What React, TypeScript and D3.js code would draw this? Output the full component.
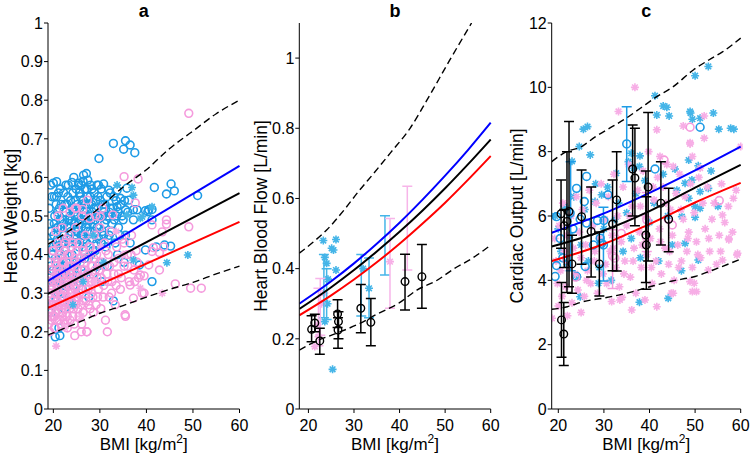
import React from 'react';
import * as d3 from 'd3';

type P = [number, number];
type Bar = [number, number, number, number];

const FONT = "'Liberation Sans', Arial, Helvetica, sans-serif";
const BLUE_C = '#1E9BE6';
const PINK_C = '#F59BDD';
const BLUE_S = '#45B5E8';
const PINK_S = '#F7AEE6';
const BLUE_BAR = '#45B5E8';
const PINK_BAR = '#F7B5E9';

// ---------------- Panel a ----------------
const aBlueCircles: P[] = [
  [32.9,0.688],[35.5,0.695],[36.5,0.684],[35.1,0.673],[37.5,0.664],[29.8,0.649],[26.5,0.606],[20.7,0.589],[20.0,0.585],[20.7,0.55],
  [24.0,0.587],[25.4,0.585],[27.4,0.593],[29.4,0.58],[30.8,0.583],[31.9,0.567],[33.7,0.567],[35.8,0.572],[34.4,0.546],[36.2,0.541],
  [37.2,0.516],[35.5,0.516],[33.7,0.524],[39.8,0.514],[41.2,0.517],[41.7,0.574],[44.3,0.557],[45.3,0.583],[46.0,0.565],[51.0,0.553],
  [40.5,0.516],[40.3,0.511],[41.2,0.49],[38.0,0.516],[37.2,0.49],[45.2,0.422],[43.9,0.425],[42.1,0.42],[39.8,0.412],[41.2,0.33],
  [38.5,0.373],[20.4,0.187],[21.4,0.19],[32.9,0.28],
  [19.2,0.34],[19.5,0.31],[19.8,0.40],[20.0,0.36],[20.1,0.45],[20.3,0.50],[20.5,0.29],[20.6,0.42],[20.8,0.38],[21.0,0.47],
  [21.1,0.33],[21.3,0.52],[21.4,0.44],[21.6,0.40],[21.8,0.36],[22.0,0.49],[22.1,0.30],[22.3,0.45],[22.5,0.53],[22.6,0.41],
  [22.8,0.38],[23.0,0.47],[23.1,0.55],[23.3,0.43],[23.5,0.35],[23.6,0.50],[23.8,0.46],[24.0,0.40],[24.1,0.52],[24.3,0.32],
  [24.5,0.48],[24.6,0.44],[24.8,0.54],[25.0,0.38],[25.1,0.50],[25.3,0.46],[25.5,0.42],[25.6,0.56],[25.8,0.49],[26.0,0.36],
  [26.1,0.53],[26.3,0.45],[26.5,0.41],[26.6,0.51],[26.8,0.57],[27.0,0.47],[27.2,0.43],[27.3,0.55],[27.5,0.39],[27.7,0.50],
  [27.9,0.46],[28.0,0.58],[28.2,0.53],[28.4,0.44],[28.6,0.48],[28.8,0.56],[29.0,0.41],[29.2,0.52],[29.4,0.47],[29.6,0.55],
  [29.8,0.44],[30.0,0.50],[30.3,0.57],[30.5,0.46],[30.7,0.53],[31.0,0.48],[31.3,0.42],[31.5,0.55],[31.8,0.50],[32.0,0.45],
  [32.3,0.52],[32.6,0.48],[33.0,0.55],[33.3,0.43],[33.6,0.50],[34.0,0.47],[34.5,0.53],[35.0,0.49],[35.5,0.45],[36.0,0.51],
  [21.2,0.21],[19.6,0.25],[22.4,0.26],[23.4,0.28],[26.2,0.31],[27.6,0.29],[28.5,0.35],[30.4,0.33],[31.6,0.37],[33.8,0.40],
  [35.2,0.38],[36.5,0.43],[19.4,0.58],[20.2,0.55],[21.5,0.57],[22.7,0.58],[24.4,0.60],[25.4,0.58],[26.4,0.59],[27.1,0.61],
  [19.1,0.48],[19.3,0.43],[20.9,0.51],[22.2,0.43],[23.9,0.36],[24.9,0.45],[26.9,0.49],[28.1,0.40],[29.5,0.37],[30.9,0.51],
  [19.1,0.52],[19.3,0.37],[19.5,0.46],[19.7,0.55],[19.9,0.33],[20.0,0.42],[20.2,0.48],[20.4,0.39],[20.6,0.53],[20.7,0.35],
  [20.9,0.44],[21.1,0.56],[21.2,0.41],[21.4,0.49],[21.5,0.37],[21.7,0.53],[21.9,0.43],[22.0,0.39],[22.2,0.56],[22.3,0.48],
  [22.5,0.35],[22.7,0.51],[22.8,0.44],[23.0,0.40],[23.2,0.58],[23.3,0.49],[23.5,0.45],[23.7,0.54],[23.9,0.42],[24.0,0.49],
  [24.2,0.56],[24.4,0.37],[24.5,0.51],[24.7,0.46],[24.9,0.57],[25.0,0.43],[25.2,0.53],[25.4,0.48],[25.6,0.39],[25.7,0.52],
  [25.9,0.45],[26.0,0.58],[26.2,0.48],[26.4,0.54],[26.5,0.44],[26.7,0.39],[26.9,0.53],[27.0,0.50],[27.2,0.57],[27.4,0.46],
  [27.6,0.53],[27.8,0.42],[27.9,0.55],[28.1,0.49],[28.3,0.57],[28.5,0.41],[28.7,0.52],[28.9,0.46],[29.1,0.54],[29.3,0.43],
  [29.5,0.50],[29.7,0.58],[29.9,0.47],[30.1,0.54],[30.3,0.43],[30.6,0.50],[30.8,0.45],[31.1,0.53],[31.4,0.49],[31.7,0.44],
  [32.0,0.51],[32.2,0.56],[32.5,0.46],[32.8,0.52],[33.1,0.49],[33.5,0.54],[33.9,0.51],[34.3,0.45],[34.8,0.50],[35.3,0.54],
  [19.2,0.29],[19.8,0.27],[20.5,0.33],[21.0,0.30],[21.8,0.32],[22.4,0.37],[23.1,0.33],[24.1,0.35],[25.3,0.33],[26.6,0.35],
  [21.6,0.47],[22.9,0.53],[24.6,0.50],[25.8,0.55],[27.3,0.48],[28.4,0.51],[20.8,0.47],[23.6,0.47],[26.3,0.42],[29.0,0.49],
];
const aPinkCircles: P[] = [
  [49.1,0.766],[35.2,0.602],[38.2,0.596],[37.6,0.534],[44.3,0.49],[44.3,0.479],[41.2,0.477],[49.1,0.472],[27.3,0.541],[25.0,0.52],
  [26.3,0.517],[27.8,0.494],[32.8,0.503],[30.1,0.498],[46.2,0.324],[49.5,0.313],[51.8,0.313],[42.8,0.36],[39.5,0.30],[35.4,0.244],
  [31.6,0.20],[43.7,0.42],[41.2,0.408],[42.8,0.405],[40.5,0.373],[38.7,0.347],[39.5,0.345],[36.5,0.321],[39.1,0.30],[37.2,0.287],
  [43.4,0.459],[41.5,0.418],[24.6,0.19],[26.0,0.20],[27.2,0.20],
  [19.0,0.22],[19.2,0.30],[19.4,0.26],[19.5,0.35],[19.7,0.24],[19.8,0.41],[20.0,0.28],[20.1,0.33],[20.2,0.21],[20.4,0.38],
  [20.5,0.46],[20.6,0.25],[20.8,0.31],[20.9,0.43],[21.0,0.27],[21.2,0.36],[21.3,0.23],[21.5,0.40],[21.6,0.29],[21.8,0.34],
  [21.9,0.47],[22.0,0.25],[22.2,0.38],[22.3,0.31],[22.5,0.43],[22.6,0.22],[22.8,0.35],[22.9,0.28],[23.1,0.40],[23.2,0.33],
  [23.4,0.45],[23.5,0.26],[23.7,0.37],[23.8,0.30],[24.0,0.42],[24.2,0.24],[24.3,0.34],[24.5,0.39],[24.6,0.28],[24.8,0.47],
  [25.0,0.32],[25.1,0.36],[25.3,0.26],[25.4,0.43],[25.6,0.30],[25.8,0.38],[26.0,0.34],[26.1,0.22],[26.3,0.41],[26.5,0.28],
  [26.7,0.36],[26.9,0.45],[27.0,0.31],[27.2,0.20],[27.4,0.39],[27.6,0.27],[27.8,0.34],[28.0,0.42],[28.2,0.30],[28.4,0.37],
  [28.6,0.25],[28.8,0.45],[29.0,0.33],[29.3,0.40],[29.5,0.29],[29.8,0.36],[30.0,0.47],[30.2,0.26],[30.5,0.38],[30.8,0.32],
  [31.0,0.43],[31.2,0.23],[31.5,0.35],[31.8,0.40],[32.0,0.29],[32.3,0.46],[32.6,0.33],[33.0,0.38],[33.3,0.27],[33.6,0.42],
  [34.0,0.35],[34.4,0.31],[34.8,0.44],[35.2,0.37],[35.5,0.24],[35.9,0.40],[36.3,0.33],[36.8,0.45],[37.3,0.36],[37.8,0.41],
  [38.3,0.34],[22.1,0.52],[23.6,0.51],[24.7,0.52],[26.2,0.50],[21.0,0.50],[29.1,0.50],[30.6,0.52],
  [19.1,0.27],[19.6,0.32],[20.3,0.24],[20.7,0.35],[21.4,0.30],[21.7,0.26],[22.4,0.33],[23.0,0.24],[23.9,0.27],[24.9,0.29],
  [19.0,0.25],[19.1,0.33],[19.2,0.20],[19.3,0.38],[19.4,0.29],[19.6,0.23],[19.7,0.36],[19.8,0.31],[19.9,0.27],[20.0,0.41],
  [20.1,0.24],[20.2,0.34],[20.3,0.30],[20.4,0.21],[20.5,0.27],[20.6,0.37],[20.7,0.32],[20.8,0.23],[20.9,0.28],[21.0,0.39],
  [21.1,0.33],[21.2,0.25],[21.3,0.42],[21.4,0.27],[21.5,0.35],[21.6,0.22],[21.7,0.31],[21.8,0.38],[21.9,0.24],[22.0,0.29],
  [22.1,0.35],[22.2,0.27],[22.3,0.41],[22.4,0.23],[22.5,0.31],[22.6,0.36],[22.7,0.26],[22.8,0.44],[22.9,0.32],[23.0,0.21],
  [23.1,0.29],[23.2,0.37],[23.3,0.27],[23.4,0.34],[23.5,0.40],[23.6,0.23],[23.7,0.31],[23.8,0.35],[23.9,0.28],[24.0,0.37],
  [24.1,0.30],[24.2,0.43],[24.3,0.26],[24.4,0.33],[24.5,0.22],[24.6,0.38],[24.7,0.31],[24.8,0.27],[24.9,0.35],[25.0,0.41],
  [25.2,0.29],[25.4,0.33],[25.5,0.24],[25.7,0.39],[25.9,0.27],[26.0,0.31],[26.2,0.36],[26.4,0.25],[26.6,0.33],[26.8,0.40],
  [27.0,0.28],[27.3,0.35],[27.5,0.31],[27.7,0.42],[27.9,0.26],[28.1,0.37],[28.3,0.33],[28.5,0.29],[28.7,0.39],[29.0,0.36],
  [29.2,0.27],[29.4,0.34],[29.7,0.31],[30.0,0.38],[30.3,0.34],[30.7,0.29],[31.0,0.37],[31.3,0.41],[31.7,0.33],[32.1,0.37],
  [32.5,0.30],[33.0,0.35],[33.5,0.32],[34.0,0.39],[34.6,0.34],[35.2,0.43],[36.0,0.37],[36.7,0.40],[37.5,0.33],[38.0,0.38],
];
const aBlueStars: P[] = [
  [37.2,0.554],[41.2,0.524],[39.1,0.498],[44.4,0.379],[48.9,0.399],[37.2,0.386],[33.7,0.58],[36.9,0.574],[35.8,0.503],[38.7,0.494],
  [28.5,0.45],[30.8,0.38],[26.4,0.33],[24.2,0.27],
];
const aPinkStars: P[] = [
  [20.6,0.163],[43.4,0.30],[38.7,0.313],[30.2,0.42],[33.5,0.46],[26.0,0.24],[22.5,0.21],[28.7,0.33],[35.0,0.40],
];
const aBlueLine: P[] = [[18.85,0.332],[60,0.63]];
const aBlackLine: P[] = [[18.85,0.298],[60,0.559]];
const aRedLine: P[] = [[18.85,0.262],[60,0.485]];
const aUpperDash: P[] = [[18.85,0.427],[25,0.475],[30,0.522],[35,0.575],[40,0.62],[45,0.675],[50,0.72],[55,0.765],[60,0.80]];
const aLowerDash: P[] = [[18.85,0.192],[25,0.222],[30,0.248],[35,0.268],[40,0.29],[45,0.31],[50,0.328],[55,0.35],[60,0.37]];

// ---------------- Panel b ----------------
const bBlueStars: P[] = [
  [23.27,0.48],[26.05,0.483],[25.1,0.458],[25.5,0.453],[26.05,0.396],[25.3,0.113],[23.6,0.432],[24.0,0.415],[33.3,0.344],[23.6,0.249],
  [24.3,0.37],[32.0,0.40],[24.2,0.30],
];
const bPinkStars: P[] = [[21.4,0.178],[22.2,0.206],[37.9,0.42],[22.9,0.30],[23.5,0.33],[22.0,0.24]];
const bBlueBars: Bar[] = [[23.4,0.35,0.26,0.44],[24.0,0.33,0.255,0.40],[31.6,0.35,0.265,0.44],[33.3,0.344,0.26,0.43],[36.8,0.472,0.382,0.551]];
const bPinkBars: Bar[] = [[22.6,0.28,0.21,0.372],[22.2,0.25,0.18,0.344],[37.9,0.42,0.287,0.543],[41.7,0.515,0.396,0.635]];
const bBlackBars: Bar[] = [
  [20.7,0.227,0.192,0.266],[21.4,0.245,0.22,0.27],[22.5,0.194,0.156,0.23],[26.4,0.271,0.232,0.311],[26.6,0.249,0.20,0.277],
  [26.5,0.225,0.173,0.26],[31.5,0.287,0.217,0.355],[33.7,0.247,0.18,0.315],[41.2,0.363,0.282,0.441],[44.9,0.377,0.287,0.469],
];
const bBlueLine: P[] = [[18,0.30],[25,0.364],[30,0.415],[35,0.471],[40,0.531],[45,0.596],[50,0.665],[55,0.738],[60,0.816]];
const bBlackLine: P[] = [[18,0.285],[25,0.347],[30,0.396],[35,0.449],[40,0.505],[45,0.565],[50,0.629],[55,0.697],[60,0.768]];
const bRedLine: P[] = [[18,0.267],[25,0.324],[30,0.369],[35,0.418],[40,0.471],[45,0.528],[50,0.588],[55,0.653],[60,0.721]];
const bUpperDash: P[] = [[18,0.444],[21,0.475],[24,0.51],[28,0.57],[31,0.62],[34.3,0.671],[38,0.73],[42.3,0.80],[46,0.88],[51,0.994],[55.8,1.10]];
const bLowerDash: P[] = [[18,0.168],[22,0.195],[26,0.215],[31.3,0.244],[35,0.27],[40,0.303],[43.8,0.339],[48,0.365],[52,0.40],[56,0.43],[60,0.467]];

// ---------------- Panel c ----------------
const cPinkStars: P[] = [
  [18.6,2.82],[36.8,10.0],[33.2,9.25],[52.0,9.11],[47.4,8.80],[48.9,8.24],[52.0,8.42],[49.4,7.85],[51.1,7.49],[60.0,8.16],
  [45.2,7.54],[42.3,7.85],[41.6,8.68],[48.9,8.28],[56.0,6.03],[58.4,6.55],[57.4,5.26],[59.3,4.84],[56.0,4.63],[52.9,4.32],
  [50.3,3.65],[48.9,3.96],[45.2,3.60],[41.6,3.18],[36.1,3.08],[33.5,3.39],[31.7,3.34],[34.0,3.47],[39.0,3.39],[44.8,3.60],
  [49.8,3.91],[49.4,3.65],[59.2,4.79],[57.4,5.30],
  [19.2,5.3],[19.5,4.6],[19.8,3.9],[20.2,5.7],[20.5,4.3],[20.8,3.5],[21.0,6.4],[21.3,4.9],[21.6,3.8],[22.0,5.4],
  [22.4,4.4],[22.8,6.0],[23.0,3.3],[23.3,5.0],[23.7,4.2],[24.0,6.6],[24.3,3.7],[24.6,5.5],[25.0,4.7],[25.3,6.2],
  [25.7,3.5],[26.0,5.1],[26.4,4.3],[26.8,6.8],[27.1,3.9],[27.5,5.7],[27.9,4.6],[28.3,6.4],[28.6,3.6],[29.0,5.3],
  [29.4,7.0],[29.8,4.2],[30.2,5.9],[30.6,3.9],[31.0,6.6],[31.4,4.9],[31.8,5.4],[32.2,7.3],[32.6,4.4],[33.0,6.0],
  [33.4,3.8],[33.8,5.2],[34.2,6.9],[34.6,4.6],[35.0,5.7],[35.4,7.6],[35.8,4.1],[36.2,6.3],[36.6,5.0],[37.0,3.6],
  [37.4,6.8],[37.8,5.5],[38.2,4.4],[38.6,7.4],[39.0,6.0],[39.4,4.8],[39.8,8.0],[40.2,5.3],[40.6,3.9],[41.0,6.5],
  [41.4,4.6],[41.8,7.2],[42.2,5.6],[42.6,4.2],[43.0,6.9],[43.4,5.0],[43.8,7.6],[44.2,4.5],[44.6,6.2],[45.0,5.4],
  [45.4,4.0],[45.8,6.7],[46.2,5.1],[46.6,7.3],[47.0,4.6],[47.4,5.9],[47.8,6.6],[48.2,4.9],[48.6,5.5],[49.0,7.0],
  [49.4,4.4],[49.8,6.1],[50.3,5.2],[50.8,7.2],[51.2,4.7],[51.7,6.4],[52.2,5.6],[52.7,6.9],[53.2,4.9],[53.7,5.9],
  [54.2,6.4],[54.7,4.5],[55.3,5.4],[55.8,7.0],[56.5,5.8],[57.3,6.3],[58.2,5.5],[59.0,6.8],[20.0,3.2],[22.0,2.9],[25.0,3.0],
  [26.2,4.0],[28.0,4.9],[30.4,4.5],[32.0,5.0],[34.4,4.2],[36.4,4.6],[38.4,5.1],[40.4,4.4],[42.4,5.2],[44.4,4.9],
  [46.4,4.4],[48.4,5.3],[50.6,4.8],[53.0,5.3],[55.6,4.9],[38.0,6.3],[40.8,6.9],[43.6,6.4],[46.9,6.2],[35.6,6.0],
];
const cBlueStars: P[] = [
  [26.4,8.78],[24.6,8.16],[41.2,9.74],[43.0,9.42],[43.8,9.38],[44.3,9.11],[50.0,10.36],[52.9,10.65],[49.0,9.20],[49.4,9.01],
  [51.1,9.04],[55.2,8.70],[57.8,8.73],[37.9,7.87],[36.5,7.49],[32.7,7.33],[29.5,6.66],[41.6,9.14],[48.9,9.25],[50.7,7.56],
  [48.6,7.74],[45.6,7.46],[47.8,7.02],[49.3,7.12],[51.1,6.76],[52.9,6.86],[48.6,6.55],[50.0,6.29],[51.1,6.24],[47.1,5.98],
  [50.0,5.96],[47.8,5.15],[50.7,4.63],[44.1,3.44],[35.4,7.69],[37.8,7.54],[36.0,7.95],[28.05,6.45],[37.8,3.32],[24.8,3.49],
  [28.8,3.91],
  [19.3,6.0],[20.0,5.6],[20.6,4.9],[21.4,6.3],[22.0,4.5],[22.6,5.4],[23.4,6.6],[24.2,4.1],[25.0,5.1],[25.8,6.2],
  [26.6,4.6],[27.4,5.7],[28.2,7.0],[29.0,4.4],[30.0,5.6],[30.8,6.9],[31.6,4.0],[32.4,5.9],[33.2,6.4],[34.2,4.9],
  [35.0,6.1],[36.0,5.3],[37.0,6.7],[38.0,4.7],[39.0,7.1],[40.0,5.8],[41.0,6.4],[42.0,4.6],[43.0,7.3],[44.0,6.0],
  [45.0,5.1],[46.0,6.8],[47.0,4.3],[53.5,7.4],[55.0,6.3],[58.5,8.7],[54.0,9.2],[23.0,7.7],[27.0,7.9],[25.5,8.7],
];
const cBlueCircles: P[] = [
  [19.6,5.98],[19.3,4.12],[19.6,4.46],[24.0,6.86],[26.2,7.23],[25.7,6.45],[30.9,6.66],[22.6,6.09],[26.2,5.78],[28.6,5.86],
  [30.0,5.86],[27.7,5.10],[29.2,5.31],[29.5,5.15],[24.0,4.12],[25.9,4.43],[51.1,8.76],[41.2,7.46],[35.0,8.24],[29.9,5.1],
  [20.4,5.3],[21.0,4.7],[23.2,5.6],[24.8,5.9],
];
const cPinkCircles: P[] = [
  [48.9,8.76],[55.3,6.48],[44.1,5.90],[43.2,7.74],[32.4,4.69],[33.8,5.46],[31.9,4.76],[39.4,5.88],[21.8,4.66],[23.8,4.10],
  [39.3,5.34],[45.0,5.72],
];
const cBlueBars: Bar[] = [[22.7,6.0,4.3,7.69],[29.9,5.1,3.98,6.27],[35.0,8.24,7.07,9.40]];
const cPinkBars: Bar[] = [[31.9,4.76,3.75,5.57],[39.4,5.88,4.9,6.73]];
const cBlackBars: Bar[] = [
  [20.7,2.77,1.61,3.93],[21.2,2.33,1.35,3.31],[20.6,6.07,5.0,7.12],[21.3,5.70,4.4,6.2],[21.9,5.83,3.62,8.0],
  [22.35,6.14,3.80,8.94],[23.0,4.51,3.6,5.4],[25.1,5.98,4.5,7.43],[27.2,5.52,4.1,6.9],[29.0,4.51,3.51,5.5],
  [31.9,5.75,4.3,7.12],[32.8,6.50,4.29,8.0],[36.3,7.46,6.0,8.83],[36.8,7.18,5.7,8.73],[39.2,5.41,3.93,7.4],
  [39.3,5.10,3.72,6.6],[39.7,6.90,4.6,9.22],[42.5,6.40,5.10,7.69],[44.2,5.90,4.89,6.86],
];
const cBlueLine: P[] = [[18.55,5.48],[30,6.08],[40,6.72],[50,7.42],[60,8.16]];
const cBlackLine: P[] = [[18.55,5.05],[30,5.55],[40,6.15],[50,6.88],[60,7.59]];
const cRedLine: P[] = [[18.55,4.60],[30,5.13],[40,5.75],[50,6.42],[60,7.03]];
const cUpperDash: P[] = [[18.55,7.69],[21.8,8.0],[25,8.15],[28,8.45],[32.1,8.80],[35,9.05],[38,9.35],[41.6,9.71],[45,10.0],[49.6,10.54],[53,10.85],[56,11.1],[60,11.53]];
const cLowerDash: P[] = [[18.55,3.10],[22,3.18],[25.5,3.34],[30,3.45],[35,3.6],[40.1,3.80],[45,3.98],[50,4.12],[55,4.38],[60,4.66]];

const aYTicks = [0, 0.1, 0.2, 0.3, 0.4, 0.5, 0.6, 0.7, 0.8, 0.9, 1];
const bYTicks = [0, 0.2, 0.4, 0.6, 0.8, 1];
const cYTicks = [0, 2, 4, 6, 8, 10, 12];
const xTicks = [20, 30, 40, 50, 60];

const TOP = 23;
const BOTTOM = 409;

function starPath(r: number) {
  const d = r * 0.7071;
  return `M${-r},0H${r}M0,${-r}V${r}M${-d},${-d}L${d},${d}M${-d},${d}L${d},${-d}`;
}

const fmtNum = (v: number) => (Number.isInteger(v) ? String(v) : String(+v.toFixed(2)));

type Scales = { x: d3.ScaleLinear<number, number>; y: d3.ScaleLinear<number, number> };

interface PanelProps {
  id: string;
  title: string;
  yLabel: string;
  yLabelX: number;
  xRange: [number, number];
  xDomain: [number, number];
  yDomain: [number, number];
  yTicks: number[];
  render: (s: Scales) => React.ReactNode;
}

function Panel({ id, title, yLabel, yLabelX, xRange, xDomain, yDomain, yTicks, render }: PanelProps) {
  const x = d3.scaleLinear().domain(xDomain).range(xRange);
  const y = d3.scaleLinear().domain(yDomain).range([BOTTOM, TOP]);
  const cx = (xRange[0] + xRange[1]) / 2;
  return (
    <g>
      <defs>
        <clipPath id={`clip-${id}`}>
          <rect x={xRange[0]} y={TOP} width={xRange[1] - xRange[0] + 2} height={BOTTOM - TOP} />
        </clipPath>
      </defs>
      <g clipPath={`url(#clip-${id})`}>{render({ x, y })}</g>
      <line x1={xRange[0]} x2={xRange[0]} y1={TOP} y2={BOTTOM} stroke="#000" strokeWidth={1} />
      <line x1={xRange[0]} x2={xRange[1]} y1={BOTTOM} y2={BOTTOM} stroke="#000" strokeWidth={1} />
      {yTicks.map((t) => (
        <g key={`y${t}`}>
          <line x1={xRange[0] - 4} x2={xRange[0]} y1={y(t)} y2={y(t)} stroke="#000" />
          <text x={xRange[0] - 5} y={y(t)} dy="0.36em" textAnchor="end" fontSize={16} fontFamily={FONT}>
            {fmtNum(t)}
          </text>
        </g>
      ))}
      {xTicks.map((t) => (
        <g key={`x${t}`}>
          <line x1={x(t)} x2={x(t)} y1={BOTTOM} y2={BOTTOM + 4} stroke="#000" />
          <text x={x(t)} y={431} textAnchor="middle" fontSize={16} fontFamily={FONT}>
            {t}
          </text>
        </g>
      ))}
      <text x={cx} y={450} textAnchor="middle" fontSize={17} fontFamily={FONT}>
        BMI [kg/m<tspan dy={-7} fontSize={12}>2</tspan>
        <tspan dy={7}>]</tspan>
      </text>
      <text x={cx} y={17} textAnchor="middle" fontSize={18} fontWeight="bold" fontFamily={FONT}>
        {title}
      </text>
      <text
        transform={`translate(${yLabelX},${(TOP + BOTTOM) / 2}) rotate(-90)`}
        textAnchor="middle"
        fontSize={17.5}
        fontFamily={FONT}
      >
        {yLabel}
      </text>
    </g>
  );
}

function Circles({ data, s, color, r = 3.9, sw = 1.6 }: { data: P[]; s: Scales; color: string; r?: number; sw?: number }) {
  return (
    <g>
      {data.map((d, i) => (
        <circle key={i} cx={s.x(d[0])} cy={s.y(d[1])} r={r} fill="none" stroke={color} strokeWidth={sw} />
      ))}
    </g>
  );
}

function Stars({ data, s, color, r = 4 }: { data: P[]; s: Scales; color: string; r?: number }) {
  const p = starPath(r);
  return (
    <g>
      {data.map((d, i) => (
        <path key={i} d={p} transform={`translate(${s.x(d[0])},${s.y(d[1])})`} stroke={color} strokeWidth={1.6} fill="none" />
      ))}
    </g>
  );
}

function Bars({ data, s, color, sw = 1.5, cap = 5 }: { data: Bar[]; s: Scales; color: string; sw?: number; cap?: number }) {
  return (
    <g stroke={color} strokeWidth={sw} fill="none">
      {data.map((d, i) => {
        const xx = s.x(d[0]);
        return (
          <g key={i}>
            <line x1={xx} x2={xx} y1={s.y(d[2])} y2={s.y(d[3])} />
            <line x1={xx - cap} x2={xx + cap} y1={s.y(d[2])} y2={s.y(d[2])} />
            <line x1={xx - cap} x2={xx + cap} y1={s.y(d[3])} y2={s.y(d[3])} />
          </g>
        );
      })}
    </g>
  );
}

function Line({ data, s, color, dashed = false, width = 2 }: { data: P[]; s: Scales; color: string; dashed?: boolean; width?: number }) {
  const gen = d3.line<P>().x((d) => s.x(d[0])).y((d) => s.y(d[1])).curve(d3.curveMonotoneX);
  return (
    <path
      d={gen(data) || ''}
      fill="none"
      stroke={color}
      strokeWidth={dashed ? 1.4 : width}
      strokeDasharray={dashed ? '7,4' : undefined}
    />
  );
}

export default function App() {
  return (
    <svg
      width={751}
      height={458}
      viewBox="0 0 751 458"
      style={{ position: 'absolute', left: 0, top: 0, background: '#fff' }}
    >
      <rect width={751} height={458} fill="#fff" />
      <Panel
        id="a"
        title="a"
        yLabel="Heart Weight [kg]"
        yLabelX={17}
        xRange={[48, 239.5]}
        xDomain={[18.85, 60]}
        yDomain={[0, 1]}
        yTicks={aYTicks}
        render={(s) => (
          <>
            <Circles data={aBlueCircles} s={s} color={BLUE_C} />
            <Circles data={aPinkCircles} s={s} color={PINK_C} />
            <Stars data={aBlueStars} s={s} color={BLUE_S} />
            <Stars data={aPinkStars} s={s} color={PINK_S} />
            <Line data={aUpperDash} s={s} color="#000" dashed />
            <Line data={aLowerDash} s={s} color="#000" dashed />
            <Line data={aBlueLine} s={s} color="#0000FF" />
            <Line data={aRedLine} s={s} color="#FF0000" />
            <Line data={aBlackLine} s={s} color="#000" />
          </>
        )}
      />
      <Panel
        id="b"
        title="b"
        yLabel="Heart Blood Flow [L/min]"
        yLabelX={267}
        xRange={[299.3, 490.7]}
        xDomain={[18, 60]}
        yDomain={[0, 1.1]}
        yTicks={bYTicks}
        render={(s) => (
          <>
            <Stars data={bBlueStars} s={s} color={BLUE_S} />
            <Stars data={bPinkStars} s={s} color={PINK_S} />
            <Bars data={bBlueBars} s={s} color={BLUE_BAR} />
            <Bars data={bPinkBars} s={s} color={PINK_BAR} />
            <Line data={bUpperDash} s={s} color="#000" dashed />
            <Line data={bLowerDash} s={s} color="#000" dashed />
            <Line data={bBlueLine} s={s} color="#0000FF" />
            <Line data={bRedLine} s={s} color="#FF0000" />
            <Line data={bBlackLine} s={s} color="#000" />
            <Bars data={bBlackBars} s={s} color="#000" />
            <Circles data={bBlackBars.map((d) => [d[0], d[1]] as P)} s={s} color="#000" r={3.8} sw={1.4} />
          </>
        )}
      />
      <Panel
        id="c"
        title="c"
        yLabel="Cardiac Output [L/min]"
        yLabelX={523}
        xRange={[551.7, 740.7]}
        xDomain={[18.55, 60]}
        yDomain={[0, 12]}
        yTicks={cYTicks}
        render={(s) => (
          <>
            <Stars data={cBlueStars} s={s} color={BLUE_S} />
            <Stars data={cPinkStars} s={s} color={PINK_S} />
            <Circles data={cBlueCircles} s={s} color={BLUE_C} />
            <Circles data={cPinkCircles} s={s} color={PINK_C} />
            <Bars data={cBlueBars} s={s} color={BLUE_C} />
            <Bars data={cPinkBars} s={s} color={PINK_C} />
            <Line data={cUpperDash} s={s} color="#000" dashed />
            <Line data={cLowerDash} s={s} color="#000" dashed />
            <Line data={cBlueLine} s={s} color="#0000FF" />
            <Line data={cRedLine} s={s} color="#FF0000" />
            <Line data={cBlackLine} s={s} color="#000" />
            <Bars data={cBlackBars} s={s} color="#000" />
            <Circles data={cBlackBars.map((d) => [d[0], d[1]] as P)} s={s} color="#000" r={3.8} sw={1.4} />
          </>
        )}
      />
    </svg>
  );
}
